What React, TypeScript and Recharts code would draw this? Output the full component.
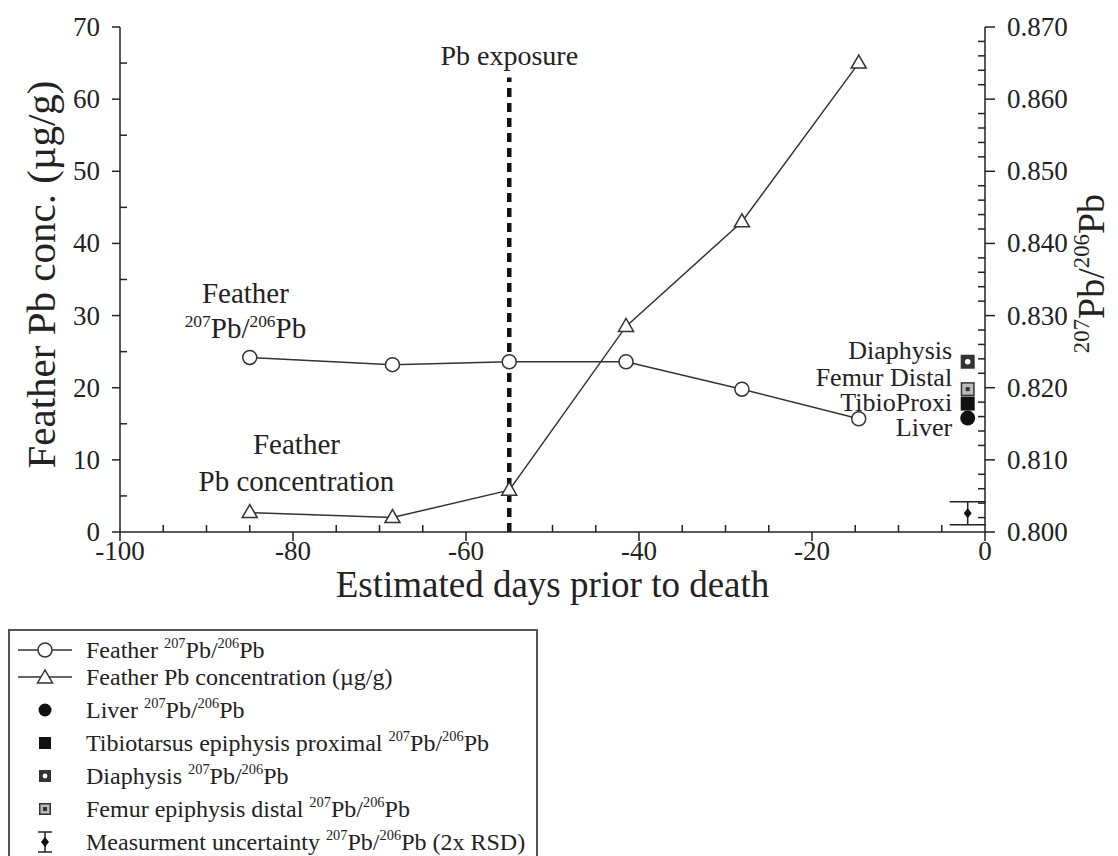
import {
  ComposedChart,
  Line,
  Scatter,
  XAxis,
  YAxis,
  ReferenceLine,
  ReferenceDot,
  ErrorBar,
  Legend,
} from "recharts";

const FONT = "'Liberation Serif', 'Times New Roman', serif";
const INK = "#222";

// feather samples (days before death)
const sampleDays = [-85, -68.5, -55, -41.5, -28.1, -14.6];
const featherRatio = [0.8242, 0.8232, 0.8236, 0.8236, 0.8198, 0.8157];
const featherConc = [2.7, 2.0, 5.8, 28.5, 43.0, 65.0];

// tissues, taken at death
const tissueDay = -2;
const liverRatio = 0.8158;
const tibioRatio = 0.8178;
const diaphysisRatio = 0.8236;
const femurRatio = 0.8198;
const uncertaintyRatio = 0.8026;
const uncertainty2RSD = 0.0016;

const exposureDay = -55;

// axes
const xTicks = [-100, -95, -90, -85, -80, -75, -70, -65, -60, -55, -50, -45, -40, -35, -30, -25, -20, -15, -10, -5, 0];
const xMajor = [-100, -80, -60, -40, -20, 0];
const concTicks = [0, 5, 10, 15, 20, 25, 30, 35, 40, 45, 50, 55, 60, 65, 70];
const concMajor = [0, 10, 20, 30, 40, 50, 60, 70];
const ratioTicks = [
  0.8, 0.802, 0.804, 0.806, 0.808, 0.81, 0.812, 0.814, 0.816, 0.818, 0.82, 0.822,
  0.824, 0.826, 0.828, 0.83, 0.832, 0.834, 0.836, 0.838, 0.84, 0.842, 0.844, 0.846,
  0.848, 0.85, 0.852, 0.854, 0.856, 0.858, 0.86, 0.862, 0.864, 0.866, 0.868, 0.87,
];
const ratioMajor = [0.8, 0.81, 0.82, 0.83, 0.84, 0.85, 0.86, 0.87];

// text annotations
const tissueNames = ["Diaphysis", "Femur Distal", "TibioProxi", "Liver"];
const tissueNameAt = [0.8240, 0.8203, 0.8168, 0.8133];

const ratioData = sampleDays.map((day, i) => ({ day, ratio: featherRatio[i] }));
const concData = sampleDays.map((day, i) => ({ day, conc: featherConc[i] }));

const isIn = (list: number[], v: number) => list.some((m) => Math.abs(m - v) < 1e-6);

function Iso({ size }: { size: number }) {
  const s = size * 0.6;
  const up = size * 0.4;
  return (
    <>
      <tspan fontSize={s} dy={-up}>207</tspan>
      <tspan fontSize={size} dy={up}>Pb/</tspan>
      <tspan fontSize={s} dy={-up}>206</tspan>
      <tspan fontSize={size} dy={up}>Pb</tspan>
    </>
  );
}

const openCircle = (cx: number, cy: number, key?: any) => (
  <circle key={key} cx={cx} cy={cy} r={7} fill="#fff" stroke="#333" strokeWidth={1.5} />
);
const openTriangle = (cx: number, cy: number, key?: any) => (
  <polygon
    key={key}
    points={`${cx},${cy - 8} ${cx - 7.5},${cy + 5} ${cx + 7.5},${cy + 5}`}
    fill="#fff"
    stroke="#333"
    strokeWidth={1.5}
  />
);
const liverMark = (cx: number, cy: number, r = 7.5) => <circle cx={cx} cy={cy} r={r} fill="#111" />;
const tibioMark = (cx: number, cy: number, s = 14) => (
  <rect x={cx - s / 2} y={cy - s / 2} width={s} height={s} fill="#111" />
);
const diaphysisMark = (cx: number, cy: number, s = 14) => (
  <g>
    <rect x={cx - s / 2} y={cy - s / 2} width={s} height={s} fill="#333" />
    <circle cx={cx} cy={cy} r={s * 0.2} fill="#fff" />
  </g>
);
const femurMark = (cx: number, cy: number, s = 14) => (
  <g>
    <rect x={cx - s / 2 + 0.75} y={cy - s / 2 + 0.75} width={s - 1.5} height={s - 1.5} fill="#bbb" stroke="#333" strokeWidth={1.5} />
    <rect x={cx - 2} y={cy - 2} width={4} height={4} fill="#333" />
  </g>
);
const diamondMark = (cx: number, cy: number) => (
  <polygon points={`${cx},${cy - 5} ${cx + 4},${cy} ${cx},${cy + 5} ${cx - 4},${cy}`} fill="#111" />
);

function BottomTick(p: any) {
  const { x, y, payload } = p;
  const major = isIn(xMajor, payload.value);
  return (
    <g>
      <line x1={x} x2={x} y1={major ? y : y - 7} y2={major ? y + 9 : y} stroke={INK} strokeWidth={1.5} />
      {major && (
        <text x={x} y={y + 28} textAnchor="middle" fontSize={27} fontFamily={FONT} fill={INK}>
          {payload.value}
        </text>
      )}
    </g>
  );
}

function TopTick(p: any) {
  const { x, y, payload } = p;
  const major = isIn(xMajor, payload.value);
  return <line x1={x} x2={x} y1={major ? y - 9 : y} y2={major ? y : y + 7} stroke={INK} strokeWidth={1.5} />;
}

function LeftTick(p: any) {
  const { x, y, payload } = p;
  const major = isIn(concMajor, payload.value);
  return (
    <g>
      <line x1={major ? x - 8 : x} x2={major ? x : x + 7} y1={y} y2={y} stroke={INK} strokeWidth={1.5} />
      {major && (
        <text x={x - 20} y={y + 9} textAnchor="end" fontSize={27} fontFamily={FONT} fill={INK}>
          {payload.value}
        </text>
      )}
    </g>
  );
}

function RightTick(p: any) {
  const { x, y, payload } = p;
  const major = isIn(ratioMajor, payload.value);
  return (
    <g>
      <line x1={major ? x : x - 7} x2={major ? x + 10 : x} y1={y} y2={y} stroke={INK} strokeWidth={1.5} />
      {major && (
        <text x={x + 22} y={y + 9} textAnchor="start" fontSize={27} fontFamily={FONT} fill={INK}>
          {payload.value.toFixed(3)}
        </text>
      )}
    </g>
  );
}

function LegendBox() {
  const rows = [21, 48, 81, 114, 147, 180, 213];
  const sx = 37;
  const tx = 78;
  const fs = 24;
  const t = (i: number, children: any) => (
    <text x={tx} y={rows[i] + 8} fontSize={fs} fontFamily={FONT} fill={INK}>
      {children}
    </text>
  );
  return (
    <svg width={530} height={227} style={{ display: "block" }}>
      <rect x={1} y={1} width={528} height={260} fill="#fff" stroke="#555" strokeWidth={2} />
      <line x1={10} x2={64} y1={rows[0]} y2={rows[0]} stroke="#333" strokeWidth={1.5} />
      {openCircle(sx, rows[0])}
      {t(0, <>Feather <Iso size={fs} /></>)}
      <line x1={10} x2={64} y1={rows[1]} y2={rows[1]} stroke="#333" strokeWidth={1.5} />
      {openTriangle(sx, rows[1] + 1)}
      {t(1, "Feather Pb concentration (µg/g)")}
      {liverMark(sx, rows[2], 6.5)}
      {t(2, <>Liver <Iso size={fs} /></>)}
      {tibioMark(sx, rows[3], 12)}
      {t(3, <>Tibiotarsus epiphysis proximal <Iso size={fs} /></>)}
      {diaphysisMark(sx, rows[4], 12)}
      {t(4, <>Diaphysis <Iso size={fs} /></>)}
      {femurMark(sx, rows[5], 12)}
      {t(5, <>Femur epiphysis distal <Iso size={fs} /></>)}
      <g stroke="#222" strokeWidth={1.5}>
        <line x1={sx} x2={sx} y1={rows[6] - 10} y2={rows[6] + 10} />
        <line x1={sx - 7} x2={sx + 7} y1={rows[6] - 10} y2={rows[6] - 10} />
        <line x1={sx - 7} x2={sx + 7} y1={rows[6] + 10} y2={rows[6] + 10} />
      </g>
      {diamondMark(sx, rows[6])}
      {t(6, <>Measurment uncertainty <Iso size={fs} /> (2x RSD)</>)}
    </svg>
  );
}

function App() {
  return (
    <div style={{ position: "absolute", left: 0, top: 0, width: 1118, height: 856, background: "#fff" }}>
      <ComposedChart width={1118} height={856} margin={{ top: 27, right: 73, bottom: 294, left: 60 }}>
        <XAxis
          xAxisId={0}
          dataKey="day"
          type="number"
          domain={[-100, 0]}
          ticks={xTicks}
          interval={0}
          allowDataOverflow
          height={30}
          tickSize={0}
          tickMargin={0}
          tickLine={false}
          axisLine={{ stroke: INK, strokeWidth: 1.5 }}
          tick={(p: any) => <BottomTick {...p} />}
          label={{
            content: ({ viewBox }: any) => (
              <text
                x={viewBox.x + viewBox.width / 2}
                y={viewBox.y + 65}
                textAnchor="middle"
                fontSize={37}
                fontFamily={FONT}
                fill={INK}
              >
                Estimated days prior to death
              </text>
            ),
          }}
        />
        <XAxis
          xAxisId="top"
          orientation="top"
          type="number"
          domain={[-100, 0]}
          ticks={xTicks}
          interval={0}
          allowDataOverflow
          height={0}
          tickSize={0}
          tickMargin={0}
          tickLine={false}
          axisLine={{ stroke: INK, strokeWidth: 1.5 }}
          tick={(p: any) => <TopTick {...p} />}
        />
        <YAxis
          yAxisId="left"
          type="number"
          domain={[0, 70]}
          ticks={concTicks}
          interval={0}
          allowDataOverflow
          width={60}
          tickSize={0}
          tickMargin={0}
          tickLine={false}
          axisLine={{ stroke: INK, strokeWidth: 1.5 }}
          tick={(p: any) => <LeftTick {...p} />}
          label={{
            content: ({ viewBox }: any) => {
              const cx = 41;
              const cy = viewBox.y + viewBox.height / 2 - 5;
              return (
                <text
                  x={cx}
                  y={cy}
                  transform={`rotate(-90, ${cx}, ${cy})`}
                  textAnchor="middle"
                  dominantBaseline="central"
                  fontSize={41}
                  fontFamily={FONT}
                  fill={INK}
                >
                  Feather Pb conc. (µg/g)
                </text>
              );
            },
          }}
        />
        <YAxis
          yAxisId="right"
          orientation="right"
          type="number"
          domain={[0.8, 0.87]}
          ticks={ratioTicks}
          interval={0}
          allowDataOverflow
          width={60}
          tickSize={0}
          tickMargin={0}
          tickLine={false}
          axisLine={{ stroke: INK, strokeWidth: 1.5 }}
          tick={(p: any) => <RightTick {...p} />}
          label={{
            content: ({ viewBox }: any) => {
              const cx = viewBox.x + 106;
              const cy = viewBox.y + viewBox.height / 2 - 6;
              return (
                <text
                  x={cx}
                  y={cy + 13}
                  transform={`rotate(-90, ${cx}, ${cy})`}
                  textAnchor="middle"
                  fontSize={38}
                  fontFamily={FONT}
                  fill={INK}
                >
                  <Iso size={38} />
                </text>
              );
            },
          }}
        />

        <ReferenceLine
          yAxisId="left"
          segment={[
            { x: exposureDay, y: 0 },
            { x: exposureDay, y: 63 },
          ]}
          stroke="#111"
          strokeWidth={4.5}
          strokeDasharray="9 6"
        />

        <Line
          data={concData}
          dataKey="conc"
          yAxisId="left"
          stroke="#333"
          strokeWidth={1.5}
          dot={(p: any) => openTriangle(p.cx, p.cy, p.index)}
          activeDot={false}
          isAnimationActive={false}
        />
        <Line
          data={ratioData}
          dataKey="ratio"
          yAxisId="right"
          stroke="#333"
          strokeWidth={1.5}
          dot={(p: any) => openCircle(p.cx, p.cy, p.index)}
          activeDot={false}
          isAnimationActive={false}
        />

        <Scatter
          data={[{ day: tissueDay, ratio: diaphysisRatio }]}
          dataKey="ratio"
          yAxisId="right"
          shape={(p: any) => diaphysisMark(p.cx, p.cy)}
          isAnimationActive={false}
        />
        <Scatter
          data={[{ day: tissueDay, ratio: femurRatio }]}
          dataKey="ratio"
          yAxisId="right"
          shape={(p: any) => femurMark(p.cx, p.cy)}
          isAnimationActive={false}
        />
        <Scatter
          data={[{ day: tissueDay, ratio: liverRatio }]}
          dataKey="ratio"
          yAxisId="right"
          shape={(p: any) => liverMark(p.cx, p.cy)}
          isAnimationActive={false}
        />
        <Scatter
          data={[{ day: tissueDay, ratio: tibioRatio }]}
          dataKey="ratio"
          yAxisId="right"
          shape={(p: any) => tibioMark(p.cx, p.cy)}
          isAnimationActive={false}
        />
        <Scatter
          data={[{ day: tissueDay, ratio: uncertaintyRatio, err: uncertainty2RSD }]}
          dataKey="ratio"
          yAxisId="right"
          shape={(p: any) => diamondMark(p.cx, p.cy)}
          isAnimationActive={false}
        >
          <ErrorBar dataKey="err" direction="y" width={18} stroke="#222" strokeWidth={1.5} isAnimationActive={false} />
        </Scatter>

        <ReferenceDot
          x={exposureDay}
          y={64.7}
          yAxisId="left"
          shape={(p: any) => (
            <text x={p.cx} y={p.cy} textAnchor="middle" fontSize={28} fontFamily={FONT} fill={INK}>
              Pb exposure
            </text>
          )}
        />
        <ReferenceDot
          x={-85.5}
          y={31.7}
          yAxisId="left"
          shape={(p: any) => (
            <text textAnchor="middle" fontSize={29} fontFamily={FONT} fill={INK}>
              <tspan x={p.cx} y={p.cy}>Feather</tspan>
              <tspan x={p.cx} y={p.cy + 35}>
                <Iso size={29} />
              </tspan>
            </text>
          )}
        />
        <ReferenceDot
          x={-79.6}
          y={10.8}
          yAxisId="left"
          shape={(p: any) => (
            <text textAnchor="middle" fontSize={29} fontFamily={FONT} fill={INK}>
              <tspan x={p.cx} y={p.cy}>Feather</tspan>
              <tspan x={p.cx} y={p.cy + 36.5}>Pb concentration</tspan>
            </text>
          )}
        />
        {tissueNames.map((name, i) => (
          <ReferenceDot
            key={name}
            x={-3.8}
            y={tissueNameAt[i]}
            yAxisId="right"
            shape={(p: any) => (
              <text x={p.cx} y={p.cy} textAnchor="end" fontSize={26} fontFamily={FONT} fill={INK}>
                {name}
              </text>
            )}
          />
        ))}

        <Legend
          layout="horizontal"
          verticalAlign="middle"
          align="center"
          wrapperStyle={{ left: 8, top: 629, width: 530, height: 227 }}
          content={() => <LegendBox />}
        />
      </ComposedChart>
    </div>
  );
}

export default App;
